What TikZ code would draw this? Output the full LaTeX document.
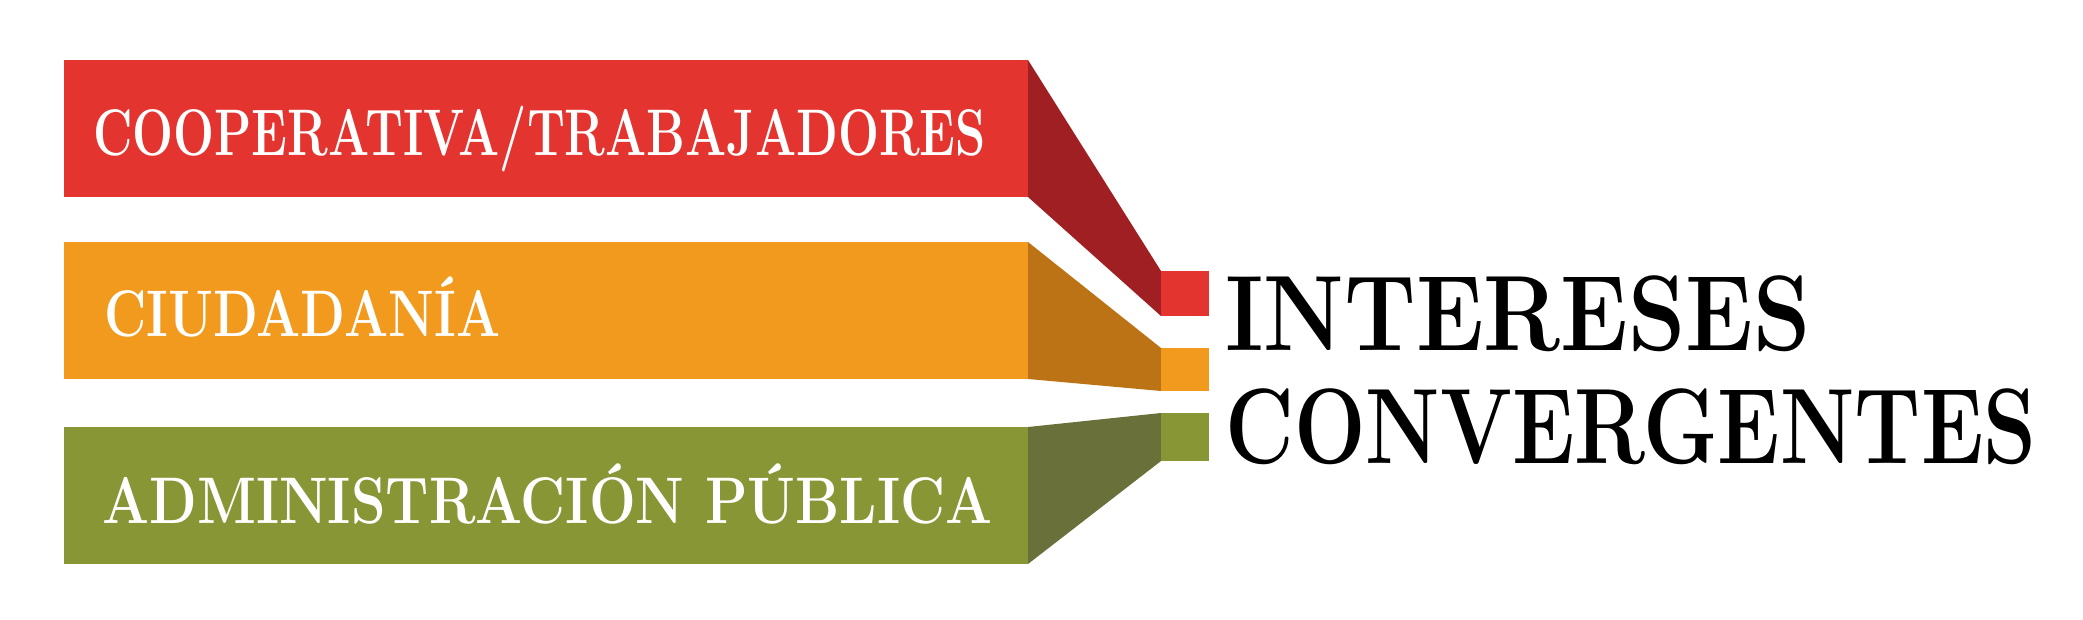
\documentclass[tikz,border=0pt]{standalone}
\definecolor{rojo}{RGB}{228,52,47}
\definecolor{rojoosc}{RGB}{160,31,34}
\definecolor{naranja}{RGB}{242,154,30}
\definecolor{naranjaosc}{RGB}{188,115,22}
\definecolor{verde}{RGB}{136,150,54}
\definecolor{verdeosc}{RGB}{106,112,58}
\tikzset{
  etiqueta/.style={anchor=base west,inner sep=0pt,text=white,font=\bfseries\fontsize{37.5}{40}\selectfont},
  titulo/.style={anchor=base west,inner sep=0pt,font=\bfseries\fontsize{61}{64}\selectfont}
}

\begin{document}
\begin{tikzpicture}[x=0.02cm,y=-0.02cm]
                \useasboundingbox (0,0) rectangle (2083,619);
                % bandas
                \fill[rojo] (64,60) rectangle (1028,197);
                \fill[rojoosc] (1028,60) -- (1161,271) -- (1161,316) -- (1028,197) -- cycle;
                \fill[rojo] (1161,271) rectangle (1209,316);

                \fill[naranja] (64,242) rectangle (1028,379);
                \fill[naranjaosc] (1028,242) -- (1161,348) -- (1161,391) -- (1028,379) -- cycle;
                \fill[naranja] (1161,348) rectangle (1209,391);

                \fill[verde] (64,427) rectangle (1028,564);
                \fill[verdeosc] (1028,427) -- (1161,413) -- (1161,461) -- (1028,564) -- cycle;
                \fill[verde] (1161,413) rectangle (1209,461);

                % textos
                \node[etiqueta,xscale=0.736] (coop) at (93,155) {COOPERATIVA/TRABAJADORES};
                \node[etiqueta,xscale=0.79] (ciud) at (104,336) {CIUDADANÍA};
                \node[etiqueta,xscale=0.84] (admin) at (102,523) {ADMINISTRACIÓN PÚBLICA};
                \node[titulo,xscale=0.856] (inter) at (1225,350) {INTERESES};
                \node[titulo,xscale=0.79] (conv) at (1225,463) {CONVERGENTES};
            \end{tikzpicture}
\end{document}
